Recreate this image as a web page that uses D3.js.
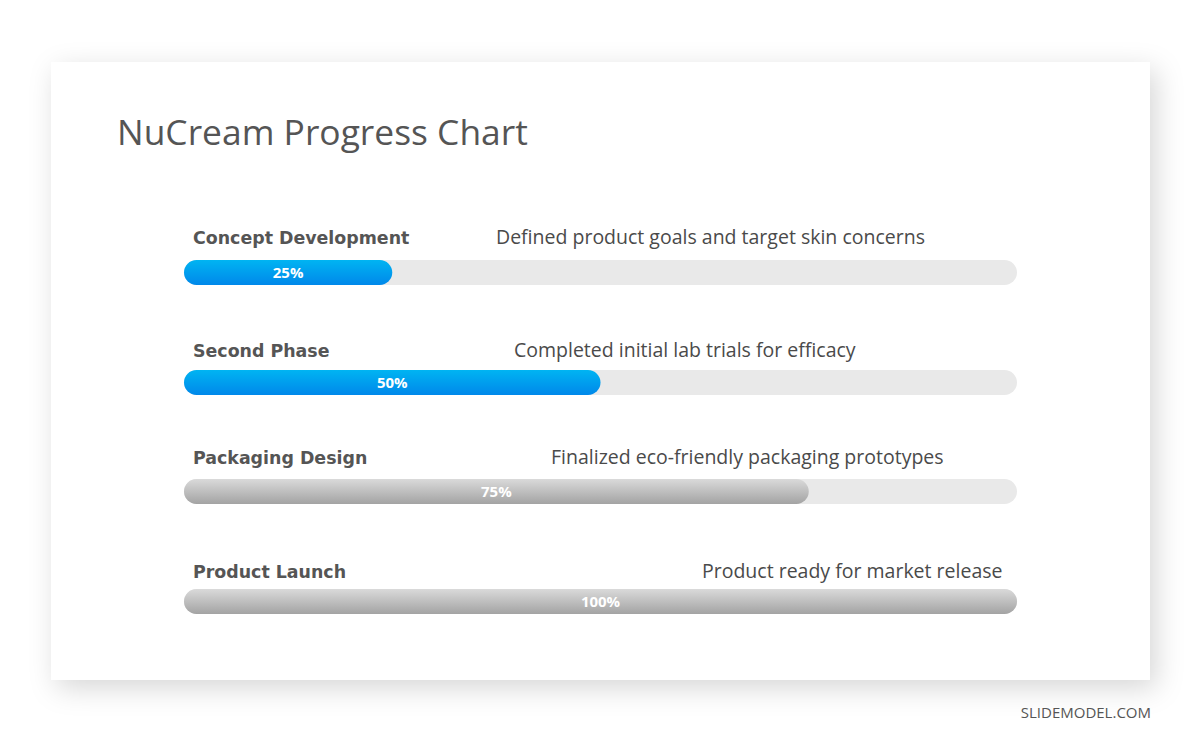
<!DOCTYPE html>
<html>
<head>
<meta charset="utf-8">
<script src="https://cdn.jsdelivr.net/npm/d3@7"></script>
<style>
    html, body { margin: 0; padding: 0; background: #fff; }
    svg { display: block; }
</style>
</head>
<body>
<div class="canvas"></div>
<script>
// Datas
const stages = ['Concept Development', 'Second Phase', 'Packaging Design', 'Product Launch'];
const progress = [25, 50, 75, 100];
const notes = [
    'Defined product goals and target skin concerns',
    'Completed initial lab trials for efficacy',
    'Finalized eco-friendly packaging prototypes',
    'Product ready for market release'
];
const colorGroup = ['blue', 'blue', 'gray', 'gray'];

// Layout
const dims = { width: 1200, height: 743 };
const card = { x: 51, y: 62, w: 1099, h: 618 };
const barTop = [260, 370, 479, 589];
const labelOffset = [-16, -13, -15, -11];
const noteX = [496, 514, 551, 702];
const barHeight = 25;

const svg = d3.select('.canvas')
    .append('svg')
    .attr('width', dims.width)
    .attr('height', dims.height);

const defs = svg.append('defs');

// Card shadow
const shadow = defs.append('filter')
    .attr('id', 'shadow')
    .attr('x', '-10%').attr('y', '-10%')
    .attr('width', '120%').attr('height', '125%');
shadow.append('feDropShadow')
    .attr('dx', 6).attr('dy', 8)
    .attr('stdDeviation', 14)
    .attr('flood-color', '#000')
    .attr('flood-opacity', 0.16);

// Gradients
const gradients = {
    blue: ['#00b4f2', '#0088ea'],
    gray: ['#dadada', '#a3a3a3']
};
Object.entries(gradients).forEach(([key, stops]) => {
    const g = defs.append('linearGradient')
        .attr('id', 'grad-' + key)
        .attr('x1', 0).attr('y1', 0).attr('x2', 0).attr('y2', 1);
    g.append('stop').attr('offset', '0%').attr('stop-color', stops[0]);
    g.append('stop').attr('offset', '100%').attr('stop-color', stops[1]);
});

svg.append('rect')
    .attr('x', card.x).attr('y', card.y)
    .attr('width', card.w).attr('height', card.h)
    .attr('fill', '#fff')
    .attr('filter', 'url(#shadow)');

// Title
svg.append('text')
    .attr('x', 117).attr('y', 145)
    .attr('font-family', 'Open Sans, sans-serif')
    .attr('font-size', 35.4)
    .attr('fill', '#555')
    .text('NuCream Progress Chart');

svg.append('text')
    .attr('x', 1151).attr('y', 718)
    .attr('text-anchor', 'end')
    .attr('font-family', 'Open Sans, sans-serif')
    .attr('font-size', 15)
    .attr('fill', '#555')
    .text('SLIDEMODEL.COM');

// Scale
const x = d3.scaleLinear()
    .domain([0, 100])
    .range([184, 1017]);

const rows = svg.selectAll('.row')
    .data(stages)
    .enter()
    .append('g')
    .attr('class', 'row')
    .attr('transform', (d, i) => `translate(0, ${barTop[i]})`);

// Track
rows.append('rect')
    .attr('x', x(0))
    .attr('width', x(100) - x(0))
    .attr('height', barHeight)
    .attr('rx', barHeight / 2)
    .attr('fill', '#e9e9e9');

// Progress
rows.append('rect')
    .attr('x', x(0))
    .attr('width', (d, i) => x(progress[i]) - x(0))
    .attr('height', barHeight)
    .attr('rx', barHeight / 2)
    .attr('fill', (d, i) => `url(#grad-${colorGroup[i]})`);

// Percent label
rows.append('text')
    .attr('x', (d, i) => (x(0) + x(progress[i])) / 2)
    .attr('y', barHeight / 2 + 5.5)
    .attr('text-anchor', 'middle')
    .attr('font-family', 'Open Sans, sans-serif')
    .attr('font-weight', 'bold')
    .attr('font-size', 15)
    .attr('fill', '#fff')
    .text((d, i) => progress[i] + '%');

// Stage name
rows.append('text')
    .attr('x', 193)
    .attr('y', (d, i) => labelOffset[i])
    .attr('font-family', 'DejaVu Sans, sans-serif')
    .attr('font-weight', 'bold')
    .attr('font-size', 17.4)
    .attr('fill', '#555')
    .text(d => d);

// Note
rows.append('text')
    .attr('x', (d, i) => noteX[i])
    .attr('y', (d, i) => labelOffset[i])
    .attr('font-family', 'Open Sans, sans-serif')
    .attr('font-size', 19.5)
    .attr('fill', '#4a4a4a')
    .text((d, i) => notes[i]);
</script>
</body>
</html>
